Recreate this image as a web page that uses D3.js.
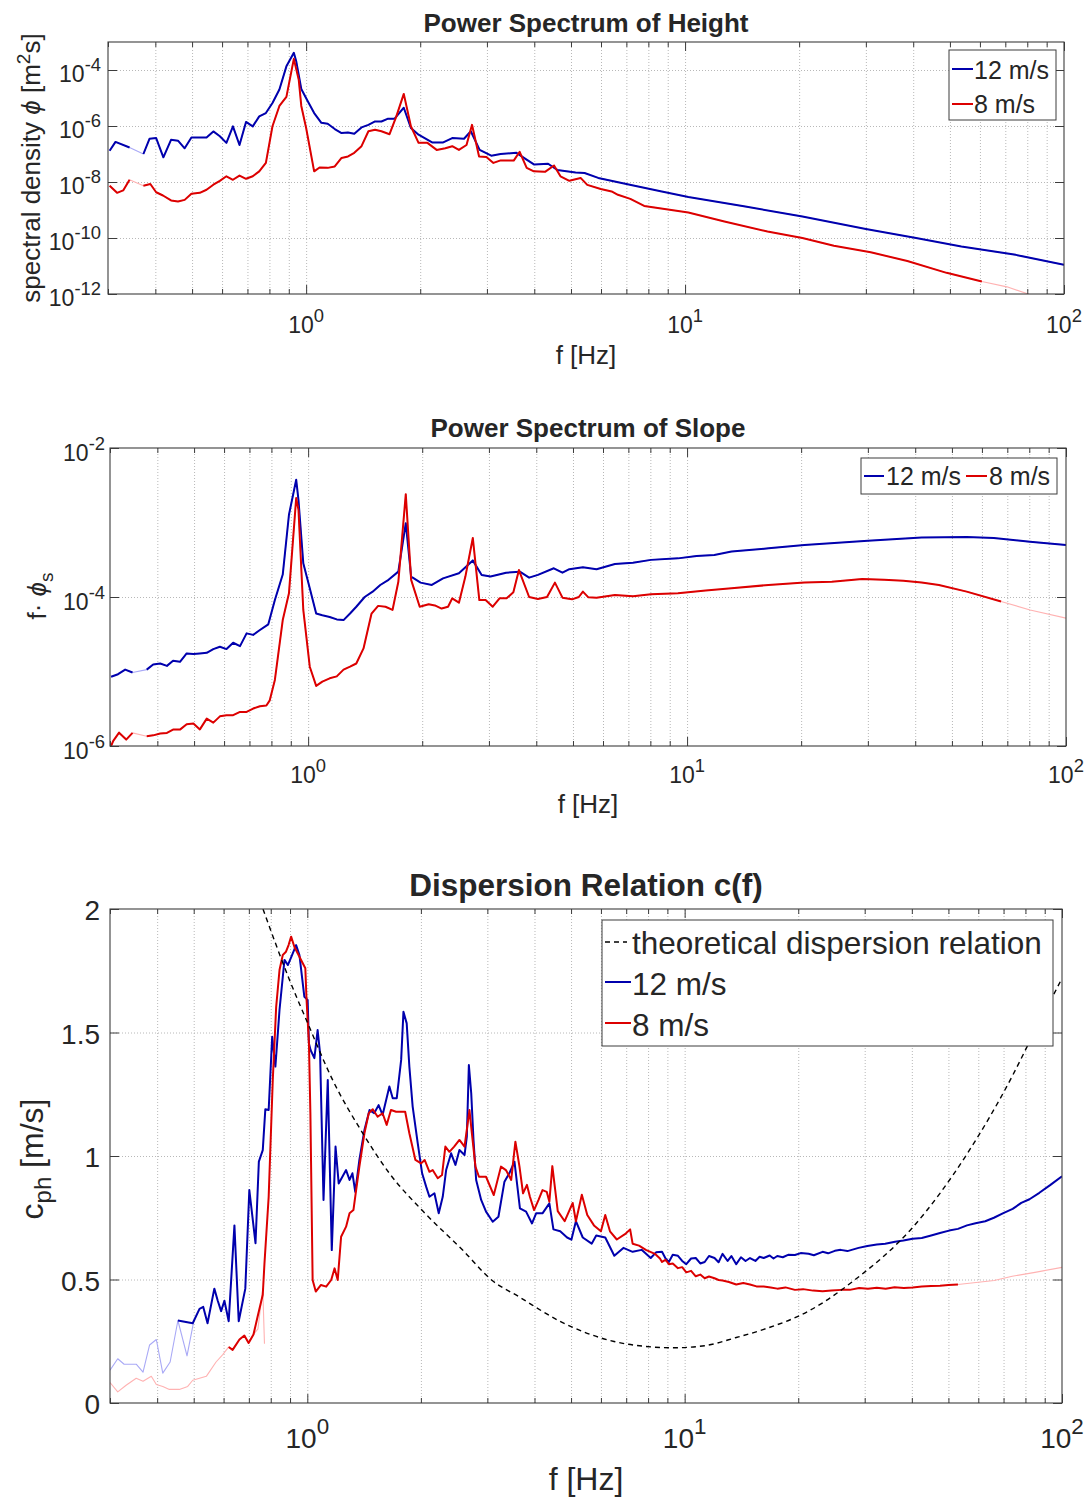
<!DOCTYPE html>
<html><head><meta charset="utf-8">
<script src="https://cdn.jsdelivr.net/npm/d3@7/dist/d3.min.js"></script>
<style>
html,body{margin:0;padding:0;background:#fff}
svg text{font-family:"Liberation Sans",Arial,Helvetica,sans-serif;fill:#262626}
</style></head><body>
<svg id="chart" width="1088" height="1497" xmlns="http://www.w3.org/2000/svg"></svg>
<script>
// ===================== DATA =====================
const freqDomain = [0.3, 100];
const seriesNames = ["12 m/s", "8 m/s"];
const theoryName = "theoretical dispersion relation";
const titles = ["Power Spectrum of Height", "Power Spectrum of Slope", "Dispersion Relation c(f)"];

// Panel 1: power spectrum of height, phi [m^2 s]
const heightBlueF = [0.303,0.314,0.342,0.372,0.386,0.402,0.42,0.44,0.459,0.478,0.498,0.524,0.546,0.569,0.592,0.616,0.641,0.667,0.694,0.723,0.752,0.783,0.815,0.85,0.887,0.928,0.942,0.971,1.01,1.05,1.097,1.14,1.19,1.24,1.29,1.34,1.40,1.46,1.52,1.58,1.64,1.71,1.81,1.89,1.98,2.15,2.30,2.43,2.61,2.72,2.87,3.08,3.26,3.59,3.80,4.00,4.35,4.60,5.14,5.43,5.90,7.15,8.68,10.2,14.3,20.4,30.0,40.7,53.6,74.6,100];
const heightBlue = [1.3e-7,2.7e-7,1.7e-7,1.0e-7,3.5e-7,3.7e-7,7.6e-8,3.2e-7,3.0e-7,1.6e-7,3.9e-7,3.9e-7,3.9e-7,6.4e-7,4.3e-7,2.5e-7,9.7e-7,2.1e-7,1.4e-6,9.7e-7,2.2e-6,2.9e-6,6.6e-6,2.0e-5,1.35e-4,4.1e-4,2.0e-4,2.1e-5,7.6e-6,2.9e-6,1.3e-6,1.2e-6,7.8e-7,5.6e-7,5.9e-7,5.3e-7,8.9e-7,1.1e-6,1.45e-6,1.45e-6,1.8e-6,1.8e-6,4.5e-6,8.5e-7,4.9e-7,2.6e-7,2.6e-7,3.7e-7,3.5e-7,6.5e-7,1.4e-7,8.7e-8,1.0e-7,1.1e-7,6.6e-8,4.2e-8,4.5e-8,2.7e-8,2.2e-8,2.1e-8,1.4e-8,8.0e-9,4.6e-9,2.9e-9,1.35e-9,5.9e-10,2.1e-10,1.0e-10,5.0e-11,2.5e-11,1.1e-11];
const heightBlueSolid = [[0.303,0.342],[0.372,100]];
const heightRedF = [0.303,0.317,0.329,0.342,0.372,0.388,0.402,0.419,0.44,0.459,0.478,0.498,0.524,0.546,0.569,0.592,0.616,0.641,0.667,0.694,0.723,0.752,0.783,0.815,0.85,0.887,0.928,0.956,0.971,1.0,1.05,1.085,1.14,1.19,1.24,1.29,1.34,1.40,1.46,1.52,1.58,1.66,1.73,1.81,1.89,1.98,2.09,2.21,2.33,2.43,2.53,2.65,2.74,2.86,2.99,3.12,3.26,3.53,3.66,3.82,3.99,4.27,4.51,4.69,4.95,5.30,5.52,5.99,6.40,6.65,7.17,7.8,10.2,12.7,16.5,20.4,24.7,30.9,38.6,49.0,60.7,70.7,80.5,100];
const heightRed = [7.4e-9,4.1e-9,5.0e-9,1.2e-8,7.4e-9,8.5e-9,4.3e-9,3.3e-9,2.2e-9,2.0e-9,2.3e-9,3.8e-9,4.1e-9,5.3e-9,8.0e-9,1.1e-8,1.6e-8,1.2e-8,1.7e-8,1.3e-8,1.6e-8,2.4e-8,4.8e-8,9.8e-7,5.2e-6,1.1e-5,2.5e-4,4.5e-5,5.2e-6,8.5e-7,2.4e-8,3.3e-8,3.2e-8,3.6e-8,7.2e-8,8.2e-8,1.1e-7,1.9e-7,6.5e-7,7.4e-7,6.5e-7,5.1e-7,2.2e-6,1.4e-5,9.8e-7,2.5e-7,2.5e-7,1.4e-7,1.6e-7,1.9e-7,1.4e-7,2.1e-7,1.1e-6,8.2e-8,7.8e-8,4.8e-8,5.9e-8,5.8e-8,1.2e-7,3.2e-8,2.4e-8,2.3e-8,3.9e-8,1.6e-8,1.1e-8,1.4e-8,7.9e-9,5.6e-9,4.6e-9,3.5e-9,2.5e-9,1.4e-9,8.1e-10,3.9e-10,1.7e-10,1.0e-10,5.3e-11,3.1e-11,1.5e-11,5.7e-12,2.8e-12,1.8e-12,1.0e-12,3.0e-13];
const heightRedSolid = [[0.303,0.342],[0.372,60.7]];

// Panel 2: power spectrum of slope, f*phi_s
const slopeBlueF = [0.302,0.315,0.329,0.344,0.375,0.39,0.407,0.424,0.44,0.459,0.478,0.498,0.518,0.54,0.562,0.585,0.609,0.634,0.661,0.688,0.716,0.746,0.785,0.817,0.857,0.89,0.93,0.943,0.971,1.01,1.05,1.09,1.14,1.19,1.24,1.29,1.34,1.41,1.48,1.55,1.63,1.73,1.81,1.87,1.98,2.12,2.27,2.5,2.72,2.87,3.03,3.33,3.62,3.83,4.04,4.45,4.69,4.89,5.31,5.77,6.45,7.2,8.03,9.46,10.6,11.8,13.1,16.4,20.4,30.0,41.6,54.7,64.5,80.4,100];
const slopeBlue = [8.5e-6,9.2e-6,1.06e-5,9.7e-6,1.06e-5,1.24e-5,1.28e-5,1.19e-5,1.39e-5,1.35e-5,1.75e-5,1.72e-5,1.75e-5,1.78e-5,2.0e-5,2.15e-5,2.0e-5,2.43e-5,2.19e-5,3.25e-5,3.1e-5,3.6e-5,4.3e-5,9.1e-5,2.0e-4,1.27e-3,3.75e-3,2.0e-3,2.84e-4,1.31e-4,6.0e-5,5.7e-5,5.4e-5,5.0e-5,4.9e-5,6.0e-5,7.4e-5,1.0e-4,1.18e-4,1.45e-4,1.7e-4,2.19e-4,9.8e-4,1.88e-4,1.56e-4,1.45e-4,1.78e-4,2.08e-4,3.1e-4,1.98e-4,1.88e-4,2.12e-4,2.19e-4,1.82e-4,1.98e-4,2.43e-4,2.12e-4,2.36e-4,2.5e-4,2.36e-4,2.78e-4,2.89e-4,3.15e-4,3.3e-4,3.56e-4,3.67e-4,4.07e-4,4.5e-4,5.0e-4,5.7e-4,6.3e-4,6.4e-4,6.2e-4,5.5e-4,5.0e-4];
const slopeBlueSolid = [[0.302,0.344],[0.375,100]];
const slopeRedF = [0.302,0.306,0.317,0.331,0.344,0.375,0.39,0.407,0.424,0.44,0.459,0.478,0.498,0.518,0.54,0.562,0.585,0.609,0.634,0.661,0.688,0.716,0.746,0.776,0.792,0.817,0.857,0.89,0.93,0.943,0.971,1.01,1.05,1.09,1.14,1.19,1.24,1.29,1.34,1.40,1.47,1.53,1.6,1.67,1.73,1.81,1.87,1.97,2.08,2.16,2.25,2.34,2.40,2.5,2.6,2.72,2.83,2.94,3.07,3.2,3.34,3.48,3.6,3.83,4.04,4.27,4.48,4.69,4.97,5.18,5.31,5.49,5.77,6.45,7.2,8.03,9.46,11.2,13.1,16.4,20.4,24.1,29.0,33.1,37.2,41.6,46.2,54.7,67.4,80.4,100];
const slopeRed = [1.0e-6,1.17e-6,1.51e-6,1.22e-6,1.5e-6,1.35e-6,1.39e-6,1.47e-6,1.5e-6,1.66e-6,1.66e-6,1.96e-6,2.0e-6,1.67e-6,2.33e-6,2.06e-6,2.5e-6,2.59e-6,2.59e-6,2.87e-6,2.87e-6,3.18e-6,3.42e-6,3.5e-6,4.1e-6,7.7e-6,4.9e-5,1.12e-4,2.13e-3,1.48e-3,6.7e-5,1.16e-5,6.4e-6,7.3e-6,8.1e-6,8.6e-6,1.06e-5,1.16e-5,1.28e-5,2.04e-5,6.0e-5,7.6e-5,7.4e-5,6.7e-5,1.6e-4,2.4e-3,1.7e-4,7.4e-5,8.0e-5,7.7e-5,7.0e-5,7.4e-5,9.6e-5,8.4e-5,1.88e-4,6.2e-4,9.1e-5,9.1e-5,7.4e-5,9.6e-5,9.6e-5,1.16e-4,2.3e-4,1.0e-4,9.4e-5,1.0e-4,1.56e-4,9.8e-5,9.3e-5,1.0e-4,1.18e-4,9.9e-5,9.8e-5,1.06e-4,1.02e-4,1.09e-4,1.12e-4,1.22e-4,1.31e-4,1.45e-4,1.56e-4,1.6e-4,1.75e-4,1.7e-4,1.65e-4,1.56e-4,1.45e-4,1.18e-4,8.7e-5,6.7e-5,5.2e-5];
const slopeRedSolid = [[0.302,0.344],[0.375,67.4]];

// Panel 3: phase speed c_ph [m/s]
const theoryF = [0.763,0.897,1.003,1.167,1.403,1.65,2.03,2.58,3.09,3.64,4.67,6.5,7.89,9.34,11.3,13.7,16.2,21.3,28.1,40.2,56.0,73.8,83.6,100];
const theoryC = [2.0,1.713,1.537,1.308,1.092,0.93,0.775,0.619,0.496,0.43,0.331,0.249,0.229,0.2235,0.232,0.265,0.298,0.372,0.496,0.711,1.008,1.323,1.488,1.719];

const dispBlueLowF = [0.3,0.3145,0.327,0.352,0.367,0.382,0.398,0.414,0.433,0.454,0.48,0.499];
const dispBlueLowC = [0.133,0.179,0.157,0.157,0.125,0.235,0.257,0.121,0.166,0.334,0.191,0.323];
const dispBlueF = [0.454,0.497,0.518,0.53,0.544,0.567,0.579,0.591,0.603,0.619,0.641,0.658,0.685,0.702,0.729,0.744,0.762,0.774,0.79,0.807,0.823,0.844,0.87,0.888,0.906,0.934,0.953,0.982,1.002,1.01,1.02,1.044,1.065,1.081,1.104,1.133,1.161,1.188,1.211,1.267,1.294,1.317,1.34,1.374,1.417,1.462,1.504,1.545,1.583,1.65,1.684,1.726,1.773,1.798,1.834,1.864,1.902,1.962,2.015,2.065,2.107,2.172,2.23,2.285,2.333,2.405,2.469,2.53,2.61,2.647,2.68,2.719,2.757,2.802,2.889,2.976,3.1,3.21,3.33,3.43,3.54,3.66,3.80,3.94,4.04,4.2,4.38,4.49,4.68,4.88,5.01,5.15,5.37,5.67,5.83,6.16,6.51,6.88,7.28,7.69,8.13,8.4,8.71,8.9,9.08,9.3,9.6,9.85,10.1,10.4,10.7,11.0,11.3,11.6,12.0,12.3,12.6,13.0,13.3,13.7,14.1,14.5,14.9,15.4,15.8,16.2,16.8,17.2,17.6,18.2,18.8,19.6,20.3,21.3,22.0,23.2,24.0,25.0,25.9,27.0,28.9,30.5,32.3,34.0,36.1,38.0,40.2,42.5,45.0,47.5,50.2,53.0,56.0,59.0,62.6,66.0,69.9,74.0,78.0,82.0,87.1,93.0,100];
const dispBlueC = [0.334,0.323,0.381,0.389,0.323,0.463,0.414,0.372,0.414,0.331,0.719,0.331,0.463,0.862,0.647,0.977,1.024,1.189,1.186,1.483,1.362,1.591,1.794,1.773,1.804,1.854,1.814,1.645,1.632,1.456,1.429,1.396,1.51,1.416,0.822,1.308,0.619,1.038,0.889,0.943,0.903,0.93,0.855,0.984,1.105,1.186,1.173,1.206,1.166,1.281,1.234,1.234,1.389,1.584,1.537,1.362,1.2,1.051,0.93,0.876,0.835,0.849,0.768,0.835,0.943,1.011,0.964,1.024,1.004,1.078,1.368,1.254,1.065,0.903,0.822,0.775,0.734,0.754,0.896,0.93,0.977,0.788,0.775,0.727,0.768,0.768,0.808,0.703,0.695,0.67,0.661,0.736,0.67,0.645,0.678,0.67,0.596,0.628,0.612,0.62,0.587,0.61,0.612,0.585,0.571,0.60,0.596,0.575,0.562,0.585,0.587,0.565,0.571,0.595,0.587,0.57,0.604,0.575,0.595,0.562,0.59,0.575,0.587,0.575,0.592,0.587,0.597,0.585,0.595,0.59,0.60,0.599,0.607,0.604,0.598,0.612,0.606,0.616,0.62,0.615,0.628,0.636,0.642,0.645,0.653,0.658,0.665,0.668,0.678,0.688,0.698,0.705,0.719,0.728,0.736,0.75,0.769,0.786,0.81,0.825,0.851,0.882,0.918];

const dispRedLowF = [0.3,0.3145,0.331,0.352,0.367,0.386,0.398,0.414,0.431,0.458,0.482,0.497,0.518,0.54,0.573,0.597,0.619,0.634,0.661,0.681,0.699,0.72,0.74,0.762,0.77];
const dispRedLowC = [0.083,0.045,0.072,0.1,0.088,0.108,0.075,0.067,0.055,0.055,0.067,0.092,0.1,0.108,0.166,0.196,0.227,0.215,0.257,0.273,0.243,0.277,0.30,0.463,0.24];
const dispRedF = [0.619,0.634,0.661,0.681,0.699,0.72,0.738,0.762,0.77,0.79,0.81,0.827,0.844,0.861,0.878,0.892,0.906,0.924,0.953,0.988,0.995,1.01,1.019,1.033,1.053,1.087,1.122,1.157,1.181,1.204,1.229,1.267,1.294,1.325,1.347,1.374,1.417,1.455,1.491,1.536,1.583,1.623,1.666,1.719,1.817,1.864,1.934,2.003,2.046,2.107,2.149,2.217,2.275,2.322,2.38,2.45,2.53,2.61,2.69,2.73,2.79,2.85,2.976,3.12,3.26,3.36,3.47,3.56,3.65,3.73,3.82,3.89,3.99,4.1,4.2,4.31,4.38,4.46,4.61,4.81,5.05,5.15,5.34,5.52,5.75,6.0,6.16,6.34,6.61,6.98,7.17,7.28,7.57,7.89,8.34,8.6,8.71,8.9,9.08,9.3,9.6,9.85,10.1,10.4,10.7,11.0,11.3,11.6,12.0,12.3,12.6,13.1,13.7,14.3,14.9,15.5,16.2,16.9,17.6,18.5,19.6,20.6,21.9,23.2,24.5,26.0,27.4,29.0,30.6,32.3,34.1,36.0,38.1,40.2,42.5,45.0,47.5,50.0,53.0];
const dispRedC = [0.227,0.215,0.257,0.273,0.243,0.277,0.348,0.438,0.566,0.835,1.308,1.604,1.753,1.814,1.827,1.854,1.888,1.847,1.807,1.76,1.638,1.456,1.173,0.498,0.451,0.478,0.471,0.498,0.545,0.498,0.673,0.714,0.768,0.781,0.862,0.957,1.092,1.173,1.189,1.159,1.173,1.126,1.186,1.179,1.179,1.092,0.984,0.97,0.984,0.936,0.943,0.91,0.923,1.038,1.017,1.038,1.065,1.038,1.186,1.092,0.957,0.916,0.916,0.842,0.957,0.943,0.903,1.058,0.957,0.849,0.883,0.835,0.781,0.822,0.862,0.855,0.815,0.959,0.777,0.736,0.81,0.736,0.843,0.761,0.719,0.695,0.761,0.695,0.662,0.686,0.703,0.645,0.637,0.62,0.604,0.585,0.571,0.58,0.562,0.565,0.546,0.55,0.529,0.535,0.513,0.52,0.505,0.512,0.505,0.498,0.496,0.49,0.48,0.486,0.48,0.472,0.472,0.468,0.463,0.468,0.458,0.461,0.455,0.452,0.455,0.458,0.458,0.466,0.463,0.467,0.463,0.469,0.466,0.468,0.472,0.474,0.475,0.478,0.48];
const dispRedHighF = [53.0,59.2,66.1,73.8,84.8,100];
const dispRedHighC = [0.48,0.488,0.496,0.513,0.529,0.549];

// ===================== DRAWING =====================
const svg = d3.select('#chart');
const AX = '#3c3c3c', GRID = '#b8b8b8', TXT = '#262626';
const BLUE = '#0000ad', RED = '#dc0000', BLUE_F = '#a9a9f6', RED_F = '#ffb2b2';
const SUP = 0.8;

function makePanel(p) {
  const x = d3.scaleLog().domain(freqDomain).range([p.L, p.R]);
  const y = (p.log ? d3.scaleLog() : d3.scaleLinear()).domain(p.yDomain).range([p.B, p.T]);
  const g = svg.append('g');
  svg.append('clipPath').attr('id', 'clip' + p.id).append('rect')
    .attr('x', p.L).attr('y', p.T).attr('width', p.R - p.L).attr('height', p.B - p.T);
  const xt = x.ticks(10);
  const isMaj = v => Math.abs(Math.log10(v) - Math.round(Math.log10(v))) < 1e-6;
  const xMaj = xt.filter(isMaj), xMin = xt.filter(v => !isMaj(v));
  const vg = g.append('g').attr('transform', `translate(0,${p.B})`)
    .call(d3.axisBottom(x).tickValues(xt.filter(v => v > freqDomain[0] * 1.001 && v < freqDomain[1] * 0.999))
      .tickSize(-(p.B - p.T)).tickFormat(''));
  vg.select('.domain').remove();
  vg.selectAll('line').attr('stroke', GRID).attr('stroke-dasharray', '1,2');
  const hg = g.append('g').attr('transform', `translate(${p.L},0)`)
    .call(d3.axisLeft(y).tickValues(p.yGrid).tickSize(-(p.R - p.L)).tickFormat(''));
  hg.select('.domain').remove();
  hg.selectAll('line').attr('stroke', GRID).attr('stroke-dasharray', '1,2');
  const lines = g.append('g').attr('clip-path', `url(#clip${p.id})`);
  const deco = svg.append('g');
  function ticks(gen, tr, vals, size) {
    const a = deco.append('g').attr('transform', tr).call(gen.tickValues(vals).tickSize(size).tickFormat(''));
    a.select('.domain').remove();
    a.selectAll('line').attr('stroke', AX);
  }
  ticks(d3.axisBottom(x), `translate(0,${p.B})`, xMaj, -9);
  ticks(d3.axisBottom(x), `translate(0,${p.B})`, xMin, -5);
  ticks(d3.axisTop(x), `translate(0,${p.T})`, xMaj, -9);
  ticks(d3.axisTop(x), `translate(0,${p.T})`, xMin, -5);
  ticks(d3.axisLeft(y), `translate(${p.L},0)`, p.yTicks, -9);
  ticks(d3.axisRight(y), `translate(${p.R},0)`, p.yTicks, -9);
  deco.append('rect').attr('x', p.L).attr('y', p.T).attr('width', p.R - p.L).attr('height', p.B - p.T)
    .attr('fill', 'none').attr('stroke', AX).attr('stroke-width', 1.1);
  xMaj.forEach(v => {
    const t = deco.append('text').attr('x', x(v)).attr('y', p.B + p.xLabOff)
      .attr('text-anchor', 'middle').attr('font-size', p.tickFs).attr('fill', TXT);
    t.append('tspan').text('10');
    t.append('tspan').attr('dy', -0.5 * p.tickFs).attr('font-size', p.tickFs * SUP).text(String(Math.round(Math.log10(v))));
  });
  p.yTicks.forEach(v => {
    const t = deco.append('text').attr('x', p.L - p.yLabGap).attr('y', y(v) + p.yLabOff)
      .attr('text-anchor', 'end').attr('font-size', p.tickFs).attr('fill', TXT);
    if (p.log) {
      t.append('tspan').text('10');
      t.append('tspan').attr('dy', -0.5 * p.tickFs).attr('font-size', p.tickFs * SUP).text(String(Math.round(Math.log10(v))));
    } else t.text(String(v));
  });
  return { x, y, lines, deco };
}

function path(P, F, V, color, w, dash, curve) {
  const pts = d3.zip(F, V);
  const ln = d3.line().x(d => P.x(d[0])).y(d => P.y(d[1]));
  if (curve) ln.curve(curve);
  const el = P.lines.append('path').datum(pts).attr('d', ln).attr('fill', 'none')
    .attr('stroke', color).attr('stroke-width', w).attr('stroke-linejoin', 'round');
  if (dash) el.attr('stroke-dasharray', dash);
  return el;
}
function seriesWithGaps(P, F, V, solid, color, fadedColor) {
  path(P, F, V, fadedColor, 1.1);
  solid.forEach(([a, b]) => {
    const idx = F.map((f, i) => i).filter(i => F[i] >= a && F[i] <= b);
    path(P, idx.map(i => F[i]), idx.map(i => V[i]), color, 2);
  });
}

// ---------- Panel 1 ----------
const p1 = { id: 1, L: 108, R: 1064, T: 42, B: 294, log: true, yDomain: [1e-12, 1e-3],
  yTicks: [1e-12, 1e-10, 1e-8, 1e-6, 1e-4], yGrid: [1e-10, 1e-8, 1e-6, 1e-4],
  tickFs: 23, xLabOff: 39, yLabGap: 7, yLabOff: 12 };
const P1 = makePanel(p1);
seriesWithGaps(P1, heightBlueF, heightBlue, heightBlueSolid, BLUE, BLUE_F);
seriesWithGaps(P1, heightRedF, heightRed, heightRedSolid, RED, RED_F);

// ---------- Panel 2 ----------
const p2 = { id: 2, L: 110, R: 1066, T: 448, B: 746, log: true, yDomain: [1e-6, 1e-2],
  yTicks: [1e-6, 1e-4, 1e-2], yGrid: [1e-4],
  tickFs: 23, xLabOff: 37, yLabGap: 5, yLabOff: 13 };
const P2 = makePanel(p2);
seriesWithGaps(P2, slopeBlueF, slopeBlue, slopeBlueSolid, BLUE, BLUE_F);
seriesWithGaps(P2, slopeRedF, slopeRed, slopeRedSolid, RED, RED_F);

// ---------- Panel 3 ----------
const p3 = { id: 3, L: 110, R: 1062, T: 909, B: 1403, log: false, yDomain: [0, 2],
  yTicks: [0, 0.5, 1, 1.5, 2], yGrid: [0.5, 1, 1.5],
  tickFs: 28, xLabOff: 45, yLabGap: 10, yLabOff: 11 };
const P3 = makePanel(p3);
path(P3, dispBlueLowF, dispBlueLowC, BLUE_F, 1.1);
path(P3, dispRedLowF, dispRedLowC, RED_F, 1.1);
path(P3, dispRedHighF, dispRedHighC, RED_F, 1.1);
path(P3, dispBlueF, dispBlueC, BLUE, 2);
path(P3, dispRedF, dispRedC, RED, 2);
path(P3, theoryF, theoryC, '#000', 1.4, '5,4', d3.curveMonotoneX);

// ---------- titles & axis labels ----------
function txt(x, y, s, fs, opts = {}) {
  const t = svg.append('text').attr('x', x).attr('y', y).attr('font-size', fs)
    .attr('text-anchor', opts.anchor || 'middle').attr('fill', TXT);
  if (opts.bold) t.attr('font-weight', 'bold');
  if (opts.rotate) t.attr('transform', `rotate(-90,${x},${y})`);
  if (s !== null) t.text(s);
  return t;
}
txt((p1.L + p1.R) / 2, 32, titles[0], 26, { bold: true });
txt((p2.L + p2.R) / 2, 437, titles[1], 26, { bold: true });
txt((p3.L + p3.R) / 2, 896, titles[2], 31.5, { bold: true });
txt((p1.L + p1.R) / 2, 364, 'f [Hz]', 26);
txt((p2.L + p2.R) / 2, 813, 'f [Hz]', 26);
txt((p3.L + p3.R) / 2, 1490, 'f [Hz]', 32);

{
  const t = txt(40, 168, null, 26, { rotate: true });
  t.append('tspan').text('spectral density ');
  t.append('tspan').attr('font-style', 'italic').text('\u03D5');
  t.append('tspan').text(' [m');
  t.append('tspan').attr('dy', -10).attr('font-size', 19).text('2');
  t.append('tspan').attr('dy', 10).text('s]');
}
{
  const t = txt(46, 596, null, 26, { rotate: true });
  t.append('tspan').text('f\u00B7 ');
  t.append('tspan').attr('font-style', 'italic').text('\u03D5');
  t.append('tspan').attr('dy', 7).attr('font-size', 19).text('s');
}
{
  const t = txt(43, 1159, null, 32, { rotate: true });
  t.append('tspan').text('c');
  t.append('tspan').attr('dy', 8).attr('font-size', 24).text('ph');
  t.append('tspan').attr('dy', -8).text(' [m/s]');
}

// ---------- legends ----------
function legendBox(x, y, w, h) {
  svg.append('rect').attr('x', x).attr('y', y).attr('width', w).attr('height', h)
    .attr('fill', '#fff').attr('stroke', AX).attr('stroke-width', 1);
}
function legendItem(x1, x2, y, color, dash, w, label, tx, ty, fs) {
  const l = svg.append('line').attr('x1', x1).attr('x2', x2).attr('y1', y).attr('y2', y)
    .attr('stroke', color).attr('stroke-width', w);
  if (dash) l.attr('stroke-dasharray', dash);
  svg.append('text').attr('x', tx).attr('y', ty).attr('font-size', fs).attr('fill', TXT).text(label);
}
legendBox(949, 50, 107, 70);
legendItem(952, 973, 69, BLUE, null, 2, seriesNames[0], 974, 79, 25);
legendItem(952, 973, 104, RED, null, 2, seriesNames[1], 974, 113, 25);

legendBox(861, 458, 196, 36);
legendItem(864, 884, 476, BLUE, null, 2, seriesNames[0], 886, 485, 25);
legendItem(966, 987, 476, RED, null, 2, seriesNames[1], 989, 485, 25);

legendBox(602, 920, 451, 126);
legendItem(605, 627, 942, '#000', '5,4', 1.4, theoryName, 632, 954, 31.5);
legendItem(605, 631, 982, BLUE, null, 2, seriesNames[0], 632, 995, 31.5);
legendItem(605, 631, 1023, RED, null, 2, seriesNames[1], 632, 1036, 31.5);
</script>
</body></html>
